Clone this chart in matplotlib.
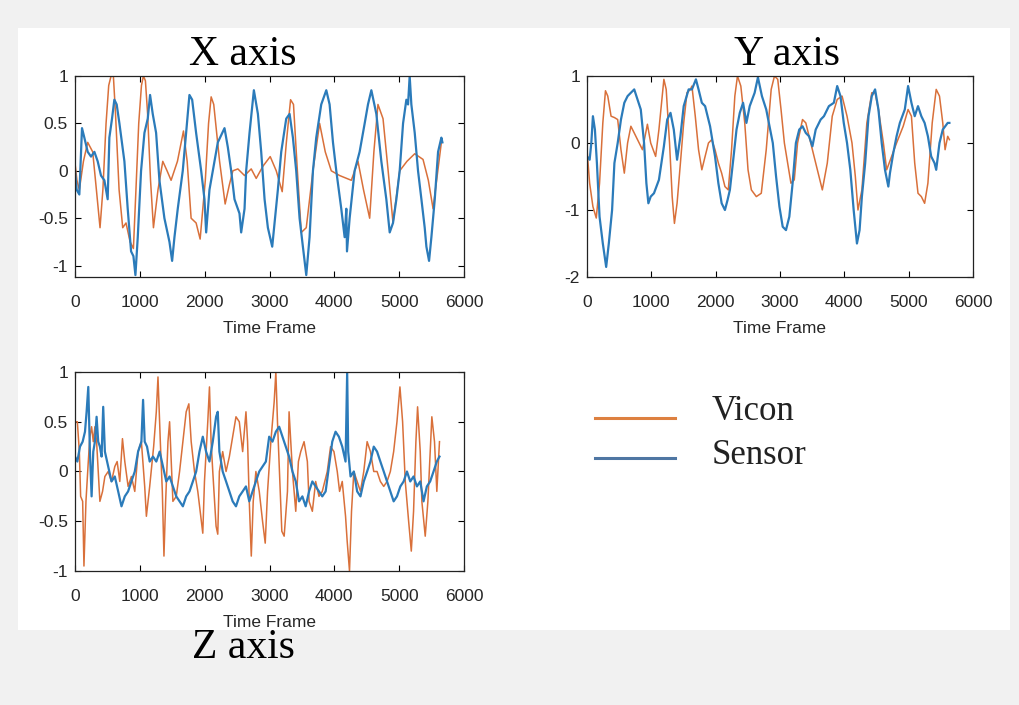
import numpy as np
import matplotlib
matplotlib.use("Agg")
import matplotlib.pyplot as plt
from matplotlib.patches import Rectangle
from matplotlib.lines import Line2D

# ---------------- data (frame, value) ----------------
x_vicon = np.array([
    [0, 0.08], [30, -0.1], [67, -0.2], [130, 0.1], [196, 0.3], [273, 0.2], [330, -0.2], [386, -0.6],
    [430, -0.2], [479, 0.5], [520, 0.9], [556, 1.0], [592, 1.0], [625, 0.6], [680, -0.2], [736, -0.6],
    [787, -0.55], [850, -0.75], [901, -0.82], [940, -0.2], [983, 0.5], [1025, 0.9], [1055, 1.0],
    [1086, 0.95], [1120, 0.6], [1165, -0.1], [1210, -0.6], [1280, -0.2], [1354, 0.1], [1420, 0.0],
    [1482, -0.1], [1580, 0.1], [1673, 0.42], [1730, 0.1], [1791, -0.5], [1868, -0.55], [1930, -0.72],
    [2010, -0.1], [2060, 0.5], [2100, 0.78], [2140, 0.7], [2230, 0.1], [2316, -0.35], [2380, -0.15],
    [2435, 0.0], [2512, 0.02], [2615, -0.05], [2718, 0.02], [2795, -0.08], [2900, 0.05], [3011, 0.15],
    [3104, 0.0], [3196, -0.22], [3260, 0.3], [3325, 0.75], [3370, 0.7], [3430, 0.0], [3490, -0.65],
    [3567, -0.6], [3670, 0.0], [3773, 0.5], [3860, 0.2], [3953, 0.0], [4082, -0.05], [4262, -0.1],
    [4365, 0.1], [4450, -0.2], [4545, -0.5], [4610, 0.2], [4673, 0.7], [4751, 0.55], [4830, 0.0],
    [4905, -0.55], [5008, 0.0], [5120, 0.1], [5240, 0.18], [5368, 0.12], [5450, -0.1], [5523, -0.4],
    [5651, 0.3]])

x_sensor = np.array([
    [0, 0.0], [26, -0.2], [67, -0.25], [108, 0.45], [144, 0.35], [196, 0.2], [247, 0.15], [299, 0.2],
    [350, 0.1], [401, -0.05], [453, -0.1], [504, -0.3], [530, 0.35], [571, 0.55], [607, 0.75],
    [643, 0.7], [685, 0.5], [762, 0.1], [813, -0.4], [865, -0.85], [901, -0.9], [932, -1.1],
    [968, -0.7], [1019, 0.0], [1071, 0.4], [1122, 0.55], [1158, 0.8], [1199, 0.6], [1251, 0.4],
    [1302, -0.1], [1379, -0.5], [1457, -0.75], [1498, -0.95], [1534, -0.7], [1585, -0.4], [1662, 0.0],
    [1714, 0.4], [1765, 0.8], [1807, 0.75], [1868, 0.4], [1946, 0.0], [1997, -0.3], [2023, -0.65],
    [2074, -0.2], [2203, 0.3], [2306, 0.45], [2357, 0.25], [2409, 0.0], [2460, -0.3], [2537, -0.45],
    [2563, -0.65], [2615, -0.4], [2640, 0.0], [2692, 0.4], [2759, 0.85], [2821, 0.6], [2872, 0.2],
    [2924, -0.3], [2975, -0.6], [3042, -0.8], [3078, -0.55], [3129, -0.2], [3181, 0.2], [3258, 0.55],
    [3310, 0.6], [3361, 0.35], [3412, 0.0], [3464, -0.5], [3515, -0.8], [3567, -1.1], [3618, -0.7],
    [3670, 0.0], [3721, 0.35], [3798, 0.7], [3876, 0.85], [3927, 0.7], [3979, 0.3], [4030, 0.0],
    [4107, -0.4], [4159, -0.7], [4185, -0.4], [4195, -0.85], [4236, -0.5], [4313, 0.0], [4390, 0.2],
    [4468, 0.5], [4519, 0.7], [4571, 0.85], [4648, 0.6], [4725, 0.1], [4802, -0.3], [4854, -0.65],
    [4905, -0.55], [4957, -0.3], [5008, 0.0], [5060, 0.5], [5111, 0.75], [5137, 0.7], [5162, 1.0],
    [5188, 0.7], [5240, 0.4], [5291, 0.0], [5343, -0.3], [5394, -0.6], [5420, -0.8], [5461, -0.95],
    [5497, -0.7], [5549, -0.3], [5600, 0.2], [5651, 0.35], [5667, 0.3]])

y_vicon = np.array([
    [0, -0.1], [41, -0.6], [92, -0.95], [144, -1.12], [195, -0.6], [246, 0.3], [287, 0.78], [323, 0.7],
    [374, 0.4], [426, 0.38], [477, 0.35], [528, -0.1], [580, -0.45], [631, 0.0], [682, 0.25],
    [734, 0.15], [811, 0.0], [862, -0.1], [939, 0.28], [990, 0.0], [1067, -0.2], [1118, 0.2],
    [1195, 0.95], [1231, 0.8], [1283, 0.0], [1324, -0.8], [1359, -1.2], [1400, -0.9], [1452, -0.3],
    [1503, 0.3], [1554, 0.75], [1606, 0.8], [1631, 0.85], [1683, 0.4], [1734, -0.1], [1785, -0.4],
    [1836, -0.2], [1888, 0.0], [1939, 0.05], [1990, -0.1], [2042, -0.3], [2093, -0.45], [2144, -0.65],
    [2196, -0.7], [2247, -0.1], [2298, 0.7], [2339, 1.0], [2391, 0.85], [2452, 0.3], [2503, -0.4],
    [2555, -0.7], [2632, -0.8], [2709, -0.75], [2786, -0.1], [2863, 0.8], [2914, 1.0], [2965, 0.95],
    [3016, 0.5], [3068, 0.0], [3119, -0.3], [3170, -0.6], [3222, -0.55], [3273, 0.0], [3350, 0.35],
    [3401, 0.3], [3478, 0.0], [3555, -0.3], [3658, -0.7], [3735, -0.3], [3812, 0.4], [3889, 0.65],
    [3965, 0.7], [4042, 0.4], [4119, 0.0], [4171, -0.5], [4212, -1.0], [4273, -0.7], [4350, 0.3],
    [4427, 0.75], [4478, 0.75], [4530, 0.5], [4607, 0.0], [4658, -0.4], [4735, -0.2], [4812, 0.0],
    [4915, 0.25], [4991, 0.5], [5043, 0.4], [5094, -0.3], [5145, -0.75], [5197, -0.8], [5248, -0.9],
    [5299, -0.6], [5366, 0.3], [5428, 0.8], [5479, 0.7], [5530, 0.3], [5566, -0.1], [5607, 0.1],
    [5633, 0.05]])

y_sensor = np.array([
    [0, -0.2], [41, -0.25], [67, 0.0], [92, 0.4], [123, 0.2], [154, -0.3], [195, -1.1], [246, -1.5],
    [298, -1.85], [339, -1.5], [390, -1.0], [426, -0.3], [477, 0.0], [528, 0.35], [580, 0.6],
    [631, 0.7], [682, 0.75], [734, 0.8], [785, 0.65], [836, 0.5], [887, 0.0], [923, -0.6], [954, -0.9],
    [990, -0.8], [1041, -0.75], [1118, -0.55], [1195, -0.05], [1247, 0.35], [1298, 0.45], [1349, 0.2],
    [1400, -0.25], [1452, 0.1], [1503, 0.55], [1580, 0.8], [1631, 0.8], [1693, 0.95], [1734, 0.8],
    [1785, 0.6], [1836, 0.55], [1913, 0.25], [1990, -0.2], [2042, -0.6], [2093, -0.9], [2144, -1.0],
    [2185, -0.85], [2221, -0.7], [2273, -0.25], [2324, 0.2], [2375, 0.45], [2426, 0.6], [2478, 0.3],
    [2529, 0.55], [2606, 0.75], [2657, 0.98], [2719, 0.7], [2786, 0.5], [2837, 0.25], [2888, 0.0],
    [2939, -0.5], [2991, -0.95], [3042, -1.25], [3093, -1.3], [3145, -1.1], [3196, -0.6], [3247, 0.0],
    [3299, 0.2], [3350, 0.25], [3401, 0.15], [3452, 0.1], [3504, -0.05], [3555, 0.2], [3632, 0.35],
    [3683, 0.4], [3760, 0.55], [3837, 0.6], [3889, 0.85], [3940, 0.7], [3991, 0.3], [4042, 0.0],
    [4093, -0.4], [4145, -1.0], [4196, -1.5], [4237, -1.3], [4273, -0.8], [4324, -0.3], [4376, 0.4],
    [4427, 0.7], [4478, 0.8], [4530, 0.5], [4581, 0.0], [4632, -0.4], [4684, -0.65], [4709, -0.45],
    [4761, -0.15], [4812, 0.1], [4863, 0.3], [4940, 0.5], [4991, 0.85], [5043, 0.6], [5094, 0.4],
    [5145, 0.55], [5197, 0.4], [5248, 0.3], [5299, 0.1], [5350, -0.2], [5402, -0.3], [5428, -0.4],
    [5479, 0.0], [5530, 0.2], [5607, 0.3], [5633, 0.3]])

z_vicon = np.array([
    [0, 0.5], [36, 0.5], [67, 0.2], [87, -0.25], [118, -0.3], [138, -0.95], [169, -0.3], [205, 0.1],
    [230, 0.35], [256, 0.45], [282, 0.3], [307, 0.45], [333, 0.3], [358, 0.0], [384, -0.3], [425, -0.2],
    [461, -0.05], [512, 0.0], [563, -0.1], [614, 0.05], [650, 0.1], [691, -0.1], [732, 0.33],
    [768, 0.1], [819, -0.15], [870, -0.05], [922, -0.2], [973, 0.2], [1024, 0.3], [1075, -0.15],
    [1101, -0.45], [1152, -0.15], [1213, 0.25], [1254, 0.6], [1280, 0.95], [1316, 0.3], [1347, -0.2],
    [1372, -0.85], [1398, -0.3], [1434, 0.3], [1459, 0.5], [1485, 0.1], [1510, -0.3], [1562, -0.25],
    [1613, 0.0], [1664, 0.3], [1715, 0.6], [1756, 0.68], [1792, 0.3], [1843, 0.0], [1894, -0.2],
    [1930, -0.4], [1971, -0.62], [1997, -0.1], [2022, 0.2], [2048, 0.5], [2074, 0.85], [2099, 0.3],
    [2125, 0.0], [2176, -0.55], [2202, -0.63], [2227, 0.0], [2278, 0.2], [2330, 0.0], [2381, 0.15],
    [2432, 0.35], [2483, 0.55], [2534, 0.5], [2586, 0.2], [2637, 0.6], [2662, 0.3], [2688, -0.3],
    [2719, -0.85], [2749, -0.3], [2790, 0.0], [2842, -0.2], [2893, -0.5], [2934, -0.72], [2970, -0.2],
    [3021, 0.3], [3072, 0.7], [3098, 1.0], [3123, 0.5], [3159, -0.1], [3190, -0.6], [3226, -0.65],
    [3277, -0.2], [3302, 0.6], [3354, 0.0], [3405, -0.4], [3446, 0.1], [3482, 0.2], [3533, 0.3],
    [3584, 0.1], [3610, -0.3], [3661, -0.4], [3712, -0.1], [3763, -0.25], [3814, -0.2], [3891, 0.0],
    [3942, 0.25], [3994, 0.2], [4045, 0.0], [4081, -0.2], [4122, -0.1], [4173, -0.45], [4198, -0.7],
    [4234, -1.0], [4265, -0.4], [4301, 0.0], [4352, -0.1], [4403, -0.2], [4454, 0.0], [4506, 0.3],
    [4557, 0.2], [4608, 0.0], [4659, 0.0], [4710, -0.1], [4762, -0.15], [4813, -0.1], [4864, 0.0],
    [4915, 0.2], [4966, 0.5], [5012, 0.85], [5053, 0.5], [5094, -0.1], [5146, -0.5], [5187, -0.8],
    [5222, -0.4], [5258, 0.3], [5284, 0.65], [5325, 0.2], [5350, -0.3], [5402, -0.65], [5443, -0.3],
    [5478, 0.2], [5504, 0.55], [5545, 0.3], [5581, -0.2], [5622, 0.3]])

z_sensor = np.array([
    [0, 0.15], [36, 0.1], [77, 0.25], [118, 0.3], [154, 0.4], [179, 0.6], [205, 0.85], [230, 0.2],
    [256, -0.25], [282, 0.2], [307, 0.3], [333, 0.55], [358, 0.3], [384, 0.25], [410, 0.15],
    [435, 0.65], [461, 0.2], [512, 0.05], [563, -0.1], [614, -0.05], [666, -0.2], [717, -0.35],
    [768, -0.25], [819, -0.2], [870, -0.1], [922, 0.0], [973, 0.2], [1024, 0.3], [1050, 0.72],
    [1075, 0.3], [1111, 0.25], [1152, 0.1], [1203, 0.15], [1254, 0.1], [1306, 0.2], [1357, 0.05],
    [1408, -0.1], [1459, -0.05], [1510, -0.15], [1562, -0.25], [1613, -0.3], [1664, -0.35],
    [1715, -0.25], [1766, -0.2], [1818, -0.1], [1869, 0.0], [1920, 0.2], [1971, 0.35], [2022, 0.2],
    [2074, 0.1], [2125, 0.3], [2176, 0.55], [2202, 0.6], [2227, 0.2], [2278, 0.0], [2330, -0.1],
    [2381, -0.2], [2432, -0.3], [2483, -0.35], [2534, -0.25], [2586, -0.2], [2637, -0.15], [2688, -0.3],
    [2739, -0.2], [2790, -0.1], [2842, 0.0], [2893, 0.05], [2944, 0.1], [2995, 0.35], [3046, 0.3],
    [3098, 0.4], [3149, 0.45], [3200, 0.35], [3251, 0.25], [3302, 0.15], [3354, 0.0], [3405, -0.1],
    [3456, -0.3], [3507, -0.25], [3558, -0.35], [3610, -0.2], [3661, -0.1], [3712, -0.15], [3763, -0.2],
    [3814, -0.25], [3866, -0.2], [3917, 0.05], [3968, 0.3], [4019, 0.4], [4070, 0.35], [4122, 0.25],
    [4173, 0.1], [4198, 1.0], [4214, 0.2], [4250, -0.05], [4301, 0.0], [4352, -0.2], [4403, -0.25],
    [4454, -0.1], [4506, 0.0], [4557, 0.1], [4608, 0.25], [4659, 0.2], [4710, 0.1], [4762, 0.0],
    [4813, -0.1], [4864, -0.2], [4915, -0.3], [4966, -0.25], [5018, -0.15], [5069, -0.1], [5120, 0.0],
    [5171, -0.1], [5222, -0.05], [5274, -0.15], [5325, -0.1], [5376, -0.3], [5427, -0.15], [5478, -0.1],
    [5530, 0.0], [5581, 0.1], [5622, 0.15]])

titles = ["X axis", "Y axis", "Z axis"]
series_names = ["Vicon", "Sensor"]
x_ticks = [0, 1000, 2000, 3000, 4000, 5000, 6000]
ticks_xz = [-1, -0.5, 0, 0.5, 1]
ticks_y = [-2, -1, 0, 1]
xlabel = "Time Frame"

# ---------------- styling ----------------
VICON = "#d9703a"
SENSOR = "#2b7bba"
W, H = 1020, 705
fig = plt.figure(figsize=(W / 100, H / 100), dpi=100)
fig.patch.set_facecolor("#f1f1f1")
fig.add_artist(Rectangle((18 / W, 1 - 630 / H), (1010 - 18) / W, (630 - 28) / H,
                         transform=fig.transFigure, facecolor="white", edgecolor="none", zorder=0))

tick_font = dict(family=["Liberation Sans", "DejaVu Sans"], size=12.5)


def px_axes(l, t, r, b):
    return fig.add_axes([l / W, 1 - b / H, (r - l) / W, (b - t) / H])


def style(ax, ylim, yticks):
    ax.set_xlim(0, 6000)
    ax.set_ylim(*ylim)
    ax.set_xticks(x_ticks)
    ax.set_yticks(yticks)
    ax.set_yticklabels([("%g" % v) for v in yticks], **tick_font, color="#262626")
    ax.set_xticklabels([str(v) for v in x_ticks], **tick_font, color="#262626")
    ax.tick_params(direction="in", top=True, right=True, length=4, width=0.8)
    ax.tick_params(axis="x", pad=13)
    ax.tick_params(axis="y", pad=5)
    for s in ax.spines.values():
        s.set_linewidth(0.9)
        s.set_color("#222222")
    ax.set_xlabel(xlabel, **tick_font, color="#262626", labelpad=8)


ax1 = px_axes(75, 76, 464, 277)
ax1.plot(x_vicon[:, 0], x_vicon[:, 1], color=VICON, lw=1.1)
ax1.plot(x_sensor[:, 0], x_sensor[:, 1], color=SENSOR, lw=1.6)
style(ax1, (-1.12, 1.0), ticks_xz)

ax2 = px_axes(587, 76, 973, 277)
ax2.plot(y_vicon[:, 0], y_vicon[:, 1], color=VICON, lw=1.1)
ax2.plot(y_sensor[:, 0], y_sensor[:, 1], color=SENSOR, lw=1.6)
style(ax2, (-2, 1), ticks_y)

ax3 = px_axes(75, 372, 464, 571)
ax3.plot(z_vicon[:, 0], z_vicon[:, 1], color=VICON, lw=1.1)
ax3.plot(z_sensor[:, 0], z_sensor[:, 1], color=SENSOR, lw=1.6)
style(ax3, (-1, 1), ticks_xz)

title_font = dict(family=["Liberation Serif", "DejaVu Serif"], size=30, color="black")
fig.text(243 / W, 1 - 55 / H, titles[0], ha="center", va="center", **title_font)
fig.text(787 / W, 1 - 55 / H, titles[1], ha="center", va="center", **title_font)
fig.text(243 / W, 1 - 648 / H, titles[2], ha="center", va="center", **title_font)

# legend
leg_font = dict(family=["Liberation Serif", "DejaVu Serif"], size=25, color="#222222")
fig.add_artist(Line2D([595 / W, 675 / W], [1 - 418 / H, 1 - 418 / H], color="#dd8040", lw=2.2))
fig.add_artist(Line2D([595 / W, 675 / W], [1 - 458 / H, 1 - 458 / H], color="#4f76a3", lw=2.2))
fig.text(712 / W, 1 - 412 / H, series_names[0], ha="left", va="center", **leg_font)
fig.text(712 / W, 1 - 455 / H, series_names[1], ha="left", va="center", **leg_font)

fig.savefig("out.png", dpi=100, facecolor=fig.get_facecolor())
